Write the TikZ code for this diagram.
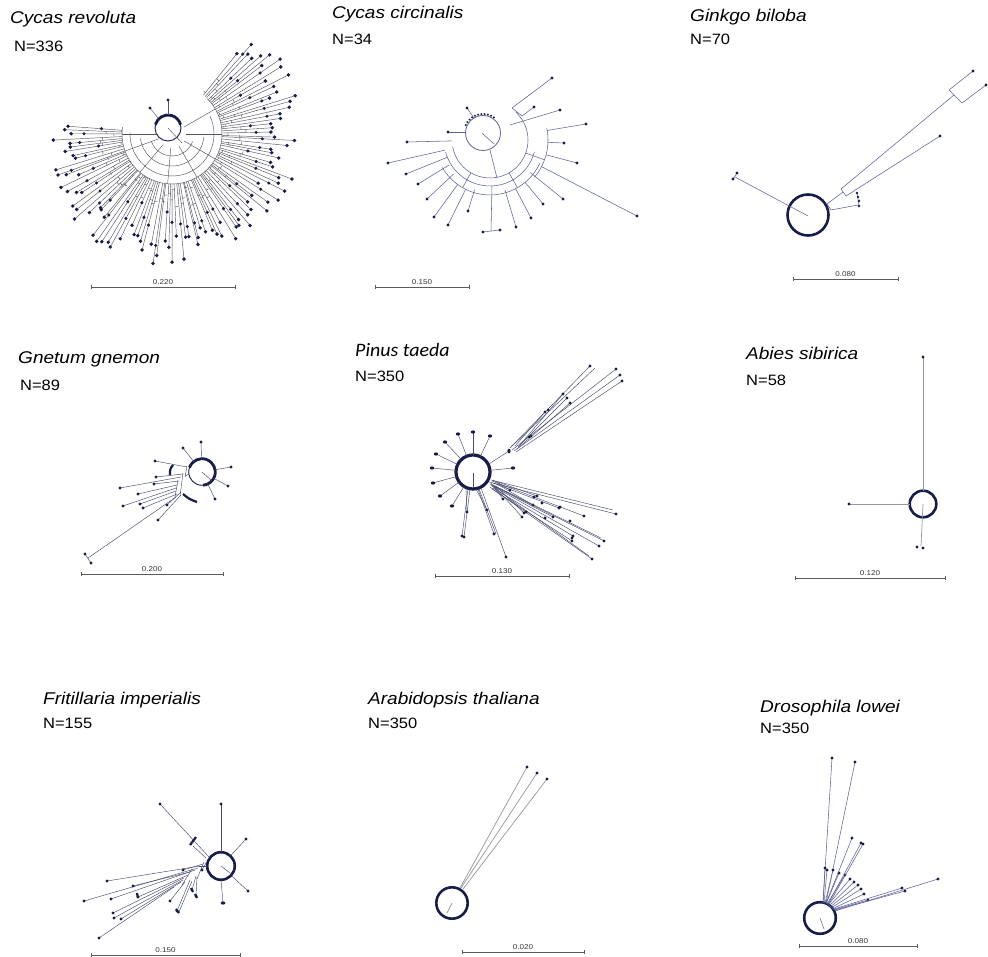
\documentclass[tikz,border=0pt]{standalone}
\usepackage{fontspec}
\usepackage{graphicx}
\usetikzlibrary{calc}
\newfontfamily\arialf{Liberation Sans}
\newfontfamily\calf{Carlito}
\definecolor{navy}{RGB}{24,28,72}
\definecolor{brc}{RGB}{70,74,110}
\definecolor{brk}{RGB}{85,85,98}
\definecolor{brb}{RGB}{95,100,155}
\definecolor{brg}{RGB}{150,150,158}
\definecolor{sbc}{RGB}{90,90,95}
\newcommand\ttl[1]{\scalebox{1.12}[1]{\arialf\itshape\fontsize{17}{20}\selectfont #1}}
\newcommand\ttlp[1]{\scalebox{1.05}[1]{\calf\itshape\fontsize{19}{22}\selectfont #1}}
\newcommand\nlab[1]{\scalebox{1.1}[1]{\arialf\fontsize{15}{18}\selectfont #1}}
\newcommand\slb[1]{\scalebox{1.15}[1]{\arialf\fontsize{7}{8}\selectfont #1}}
\newcommand\dt[1]{\fill[navy] (#1) circle[radius=1.7];}
\newcommand\sbarline[5]{%
  \draw[sbar] (#2,#4-2) -- (#2,#4+2) (#2,#4) -- (#3,#4) (#3,#4-2) -- (#3,#4+2);
  \node[slab] (#1) at ({(#2+#3)/2},#4-2) {\slb{#5}};}
\begin{document}
\begin{tikzpicture}[x=1pt,y=-1pt,
  br/.style={draw=brc,line width=0.45pt},
  brk/.style={draw=brk,line width=0.45pt},
  brl/.style={draw=brb,line width=0.55pt},
  brgr/.style={draw=brg,line width=0.7pt},
  ring/.style={draw=navy,line width=2.6pt},
  thinring/.style={draw=navy,line width=0.9pt},
  sbar/.style={draw=sbc,line width=0.5pt},
  slab/.style={anchor=south,inner sep=0.5pt,text=black!80},
  ttlnode/.style={anchor=base west,inner sep=0pt},
]
\fill[white] (0,0) rectangle (988,957);
\useasboundingbox (0,0) rectangle (988,957);

% ---------------- titles ----------------
\node[ttlnode] (t1) at (10,24) {\ttl{Cycas revoluta}};
\node[ttlnode] (n1) at (14,52) {\nlab{N=336}};
\node[ttlnode] (t2) at (332,19) {\ttl{Cycas circinalis}};
\node[ttlnode] (n2) at (332,45) {\nlab{N=34}};
\node[ttlnode] (t3) at (690,22) {\ttl{Ginkgo biloba}};
\node[ttlnode] (n3) at (690,45) {\nlab{N=70}};
\node[ttlnode] (t4) at (18,364) {\ttl{Gnetum gnemon}};
\node[ttlnode] (n4) at (20,391) {\nlab{N=89}};
\node[ttlnode] (t5) at (355,357) {\ttlp{Pinus taeda}};
\node[ttlnode] (n5) at (355,382) {\nlab{N=350}};
\node[ttlnode] (t6) at (746,360) {\ttl{Abies sibirica}};
\node[ttlnode] (n6) at (746,386) {\nlab{N=58}};
\node[ttlnode] (t7) at (43,704) {\ttl{Fritillaria imperialis}};
\node[ttlnode] (n7) at (43,728) {\nlab{N=155}};
\node[ttlnode] (t8) at (368,704) {\ttl{Arabidopsis thaliana}};
\node[ttlnode] (n8) at (368,728) {\nlab{N=350}};
\node[ttlnode] (t9) at (760,712) {\ttl{Drosophila lowei}};
\node[ttlnode] (n9) at (760,733) {\nlab{N=350}};

% ---------------- scale bars ----------------
\sbarline{s1}{91}{235}{287}{0.220}
\sbarline{s2}{375}{469}{287}{0.150}
\sbarline{s3}{793}{898}{279}{0.080}
\sbarline{s4}{81}{223}{574}{0.200}
\sbarline{s5}{435}{569}{576}{0.130}
\sbarline{s6}{795}{945}{578}{0.120}
\sbarline{s7}{91}{240}{955}{0.150}
\sbarline{s8}{462}{584}{952}{0.020}
\sbarline{s9}{799}{917}{946}{0.080}

% ================= Cycas revoluta =================
\coordinate (cA) at (172,134);
\draw[thinring] (168,128) circle[radius=13];
\draw[navy,line width=2.8pt] (168,128) ++(195:13) arc[start angle=195,end angle=345,radius=13];
\draw[brk] (168,128) -- (182,143);
\draw[brk] (168,115) -- (168,100); \dt{168,100}
\draw[brk] (158,118) -- (150,108); \dt{150,108}
\draw[brk] (cA) ++(20:22) arc[start angle=20,end angle=160,radius=22];
\draw[brk] (cA) ++(5:32) arc[start angle=5,end angle=172,radius=32];
\draw[brk] (cA) ++(-25:42) arc[start angle=-25,end angle=182,radius=42];
\draw[brk] (cA) ++(-45:50) arc[start angle=-45,end angle=188,radius=50];
\foreach \aa in {60,95,130,30,160,0,-30,180}{
  \draw[brk,shift={(cA)}] (\aa:14) -- (\aa:50);
}
\pgfmathsetseed{7}
\foreach \i in {0,...,99}{
  \pgfmathsetmacro\aa{-51+\i*2.38+0.8*rand}
  \pgfmathsetmacro\ra{50+24*rnd}
  \pgfmathsetmacro\rb{98+34*rnd}
  \pgfmathsetmacro\rmid{\ra+(\rb-\ra)*(0.35+0.4*rnd)}
  \draw[brk,shift={(cA)}] (\aa:50) -- (\aa:\rb);
  \draw[brk,shift={(cA)}] (\aa:\ra) arc[start angle=\aa,delta angle=-2.38,radius=\ra];
  \fill[navy,shift={(cA)}] (\aa:\rb) circle[radius=1.9];
  \ifodd\i\relax \fill[navy,shift={(cA)}] (\aa:\rmid) circle[radius=1.7]; \fi
}

% ================= Cycas circinalis =================
\coordinate (cB) at (490,140);
\draw[draw=brb,line width=0.8pt] (483,133) circle[radius=17.5];
\foreach \aa in {205,215,...,305}{ \fill[navy] (483,133) ++(\aa:19) circle[radius=1.1]; }
\draw[brl] (482,133) -- (494,144);
\draw[brl] (490,150) -- (497,178);
\draw[brl] (cB) ++(-35:38) arc[start angle=-35,end angle=170,radius=38];
\draw[brl] (cB) ++(15:46) arc[start angle=15,end angle=165,radius=46];
\draw[brl] (cB) ++(25:55) arc[start angle=25,end angle=150,radius=55];
\draw[brl] (cB) ++(-12:58) arc[start angle=-12,end angle=40,radius=58];
\draw[brl] (cB) ++(60:38) -- ++(60:17);
\draw[brl] (cB) ++(120:38) -- ++(120:17);
\draw[brl] (cB) ++(20:38) -- ++(20:20);
\draw[brl] (cB) ++(-34:38) -- (516,112);
\draw[brl] (512,108) -- (522,116);
\foreach \tx/\ty/\rr in {586/124/58, 564/143/58,
  577/163/58, 637/216/58, 563/199/52, 543/204/55, 531/218/55, 516/227/52,
  468/211/52, 448/225/55, 434/217/55, 427/199/50, 418/184/48, 406/174/46,
  388/163/46, 407/142/38}{
  \draw[brl] ($(cB)!\rr pt!(\tx,\ty)$) -- (\tx,\ty);
  \fill[navy] (\tx,\ty) circle[radius=1.6];
}
\draw[brl] (512,108) -- (552,78); \fill[navy] (552,78) circle[radius=1.6];
\draw[brl] (522,116) -- (534,107); \fill[navy] (534,107) circle[radius=1.6];
\draw[brl] (510,125) -- (560,110); \fill[navy] (560,110) circle[radius=1.6];
\draw[brl] (466,132) -- (448,132); \fill[navy] (448,132) circle[radius=1.6];
\draw[brl] (474,118) -- (467,108); \fill[navy] (467,108) circle[radius=1.6];
\draw[brl] (491,231) -- (492,186);
\draw[brl] (483,232) -- (500,230);
\fill[navy] (483,232) circle[radius=1.6]; \fill[navy] (500,230) circle[radius=1.6];

% ================= Ginkgo biloba =================
\draw[ring] (808,215) circle[radius=20.5];
\draw[brl] (808,216) -- (735,177);
\draw[brl] (733,179) -- (737,173); \dt{733,179} \dt{737,173}
\draw[brl] (827,204) -- (831,210);
\draw[brl] (827,204) -- (843,192);
\draw[brl] (831,210) -- (858,205);
\draw[brl] (857,193) -- (859,206);
\foreach \p in {{857,193},{858,197},{859,201},{859,206}}{ \fill[navy] (\p) circle[radius=1.3]; }
\draw[brl] (841,189) -- (846,196);
\draw[brl] (841,189) -- (954,95);
\draw[brl] (846,196) -- (940,136); \dt{940,136}
\draw[brl] (949,90) -- (962,103);
\draw[brl] (949,90) -- (973,71); \dt{973,71}
\draw[brl] (962,103) -- (986,85); \dt{986,85}

% ================= Gnetum gnemon =================
\coordinate (cD) at (202,472);
\draw[thinring] (cD) circle[radius=13.3];
\draw[navy,line width=2.8pt] (cD) ++(200:13.3) arc[start angle=200,end angle=445,radius=13.3];
\draw[br] (cD) -- (212,481);
\foreach \tx/\ty in {201/442, 183/448, 231/467, 228/486, 215/499}{
  \draw[br] ($(cD)!13pt!(\tx,\ty)$) -- (\tx,\ty); \dt{\tx,\ty}
}
\draw[navy,line width=2.2pt] (173,465) .. controls (170,469) .. (170,475);
\draw[navy,line width=2.2pt] (183,494) .. controls (189,499) .. (197,502);
\draw[br] (189,474) -- (185,476);
\draw[br] (187,466) -- (185,477);
\draw[br] (183,473) -- (180,496);
\draw[br] (178,480) -- (175,497);
\foreach \bx/\by/\tx/\ty in {187/467/155/461, 183/474/156/477, 181/477/120/488,
  179/481/154/484, 177/485/138/494, 176/488/123/506, 176/491/140/504,
  177/494/143/508, 181/492/167/505, 181/495/158/520}{
  \draw[br] (\bx,\by) -- (\tx,\ty); \dt{\tx,\ty}
}
\draw[br] (176,497) -- (88,558);
\draw[br] (85,554) -- (91,563); \dt{85,554} \dt{91,563}

% ================= Pinus taeda =================
\coordinate (cE) at (473,472);
\draw[navy,line width=3.2pt] (cE) circle[radius=17];
\draw[br] (473,473) -- (473,488);
\foreach \tx/\ty in {473/432, 490/436, 458/434, 445/442, 436/454, 432/468,
  433/483, 440/496, 452/506, 513/468}{
  \draw[br] ($(cE)!17pt!(\tx,\ty)$) -- (\tx,\ty);
  \fill[navy] (\tx,\ty) ellipse[x radius=2.2,y radius=1.6];
}
\draw[br] (489,464) -- (509,451); \fill[navy] (509,451) ellipse[x radius=1.6,y radius=2.4];
\foreach \bx/\by/\tx/\ty in {510/448/590/366, 512/450/616/369, 514/451/620/375,
  516/452/622/381, 518/447/567/398, 520/445/563/394, 517/449/570/403, 515/446/545/412}{
  \draw[br] (\bx,\by) -- (\tx,\ty); \dt{\tx,\ty}
}
\draw[br] (512,446) -- (595,368);
\foreach \p in {{529,437},{531,436},{548,410}}{ \fill[navy] (\p) circle[radius=1.5]; }
\foreach \bx/\by/\tx/\ty in {489/482/616/514, 490/484/604/541, 491/485/599/546,
  490/487/592/559, 492/481/584/516, 493/483/559/508, 494/486/553/517,
  495/487/522/517, 496/486/524/513, 493/488/573/536, 492/489/572/541,
  497/484/533/505, 498/482/537/496, 491/483/503/499, 493/480/510/490}{
  \draw[br] (\bx,\by) -- (\tx,\ty); \dt{\tx,\ty}
}
\draw[br] (491,480) -- (613,510);
\draw[br] (492,486) -- (589,556);
\draw[br] (493,485) -- (601,538);
\foreach \p in {{534,497},{542,503},{560,507},{570,521},{572,538},{545,518},{526,512}}{ \fill[navy] (\p) circle[radius=1.6]; }
\foreach \bx/\by/\tx/\ty in {470/489/464/537, 466/490/467/512, 476/489/487/510,
  478/489/494/534, 481/488/506/557, 468/489/462/536}{
  \draw[br] (\bx,\by) -- (\tx,\ty); \dt{\tx,\ty}
}
\draw[br] (479,489) -- (496,534);

% ================= Abies sibirica =================
\draw[ring] (923,504) circle[radius=13.3];
\draw[brgr] (923,491) -- (923,357); \dt{923,357}
\draw[brgr] (910,504) -- (849,504); \dt{849,504}
\draw[brgr] (923,504) -- (921,546); \dt{917,547} \dt{923,548}

% ================= Fritillaria imperialis =================
\coordinate (cG) at (221,866);
\draw[ring] (cG) circle[radius=13.8];
\draw[br] (cG) -- (230,873);
\foreach \tx/\ty in {221/804, 246/839, 248/891}{
  \draw[br] ($(cG)!14pt!(\tx,\ty)$) -- (\tx,\ty); \dt{\tx,\ty}
}
\draw[br] (221,880) -- (223,903); \fill[navy] (223,903) ellipse[x radius=2.4,y radius=1.6];
\draw[br] (209,857) -- (160,804); \dt{160,804}
\draw[br] (193,846) -- (206,858);
\draw[navy,line width=2.2pt] (190,845) -- (196,837);
\draw[br] (207,866) -- (199,866);
\draw[br] (204,862) -- (197,879);
\draw[br] (192,869) -- (182,885);
\foreach \bx/\by/\tx/\ty in {203/864/183/870, 206/863/202/870, 200/866/107/881,
  198/868/84/901, 195/870/111/899, 190/872/133/886, 188/875/138/897,
  184/878/113/913, 183/880/114/918, 181/882/121/919, 174/887/99/938,
  185/882/170/901, 190/880/177/911, 196/876/192/890, 197/877/196/896}{
  \draw[br] (\bx,\by) -- (\tx,\ty); \dt{\tx,\ty}
}
\draw[br] (192,881) -- (179,912);
\draw[navy,line width=2.2pt] (191,888) -- (193,892);
\draw[navy,line width=2.2pt] (195,894) -- (197,898);
\draw[navy,line width=2.2pt] (137,893) -- (138,898);
\draw[navy,line width=2.2pt] (176,909) -- (179,913);

% ================= Arabidopsis thaliana =================
\draw[ring] (452,903) circle[radius=15.7];
\draw[brgr] (452,903) -- (447,913);
\draw[brgr] (460,888) -- (527,767); \dt{527,767}
\draw[brgr] (461,888) -- (537,773); \dt{537,773}
\draw[brgr] (463,889) -- (547,779); \dt{547,779}

% ================= Drosophila lowei =================
\draw[ring] (820,918) circle[radius=15.8];
\draw[brl] (820,918) -- (824,929);
\draw[brl] (823,903) -- (832,758); \dt{832,758}
\draw[brl] (826,903) -- (855,762); \dt{855,762}
\foreach \bx/\by/\tx/\ty in {823/903/825/868, 824/903/827/870, 825/903/833/870,
  826/904/839/873, 827/904/845/875, 828/905/850/879, 829/906/854/882,
  830/907/858/885, 831/908/861/889, 832/909/864/894, 833/910/868/900}{
  \draw[brl] (\bx,\by) -- (\tx,\ty); \dt{\tx,\ty}
}
\foreach \bx/\by/\tx/\ty in {826/903/852/838, 828/904/861/843, 829/904/863/844,
  834/909/902/888, 835/910/905/891, 835/911/938/879}{
  \draw[brl] (\bx,\by) -- (\tx,\ty); \dt{\tx,\ty}
}
\end{tikzpicture}
\end{document}
